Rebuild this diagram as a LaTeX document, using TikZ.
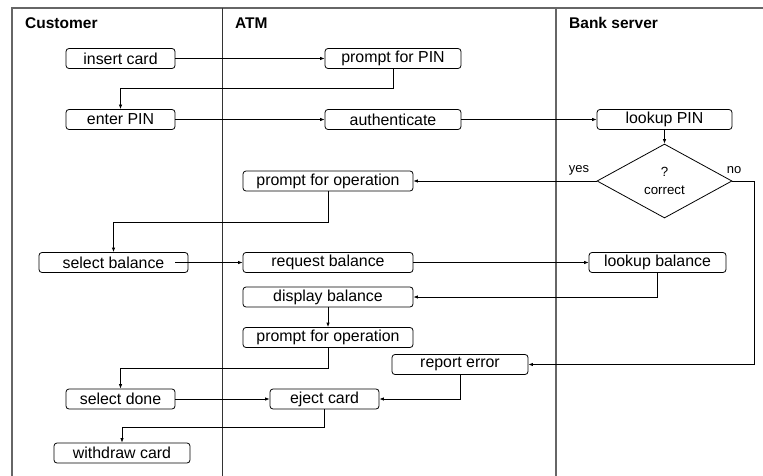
\documentclass[tikz,border=0pt]{standalone}
\usepackage{fontspec}
\setmainfont{Liberation Sans}
\usetikzlibrary{arrows.meta,shapes.geometric}
\begin{document}
\begin{tikzpicture}[x=1pt,y=-1pt,
  act/.style={draw, rounded corners=3pt, minimum height=20pt, inner sep=0pt,
    font=\fontsize{15.9}{18}\selectfont, line width=0.8pt},
  dec/.style={draw, diamond, minimum width=135pt, minimum height=74pt, aspect=1.8,
    inner sep=0pt, align=center, font=\fontsize{13.3}{18}\selectfont, line width=0.8pt},
  lbl/.style={font=\fontsize{13}{15}\selectfont, inner sep=0pt},
  hdr/.style={font=\fontsize{15.5}{18}\selectfont\bfseries, inner sep=0pt, anchor=west},
  flow/.style={draw, line width=0.8pt, -{Latex[length=4.5pt,width=3.5pt]}},
  lane/.style={draw=black!60, line width=1.2pt}]
\useasboundingbox (0,0) rectangle (763,476);
% frame and lanes
\coordinate (tl) at (12,8);
\coordinate (tr) at (763,8);
\coordinate (bl) at (12,476);
\draw[lane] (bl) -- (tl) -- (tr);
\draw[draw=black!80, line width=0.9pt] (222,8) -- (222,476);
\draw[lane] (556,8) -- (556,476);
% headers
\node[hdr] (hc) at (25,23) {Customer};
\node[hdr] (ha) at (235,23) {ATM};
\node[hdr] (hb) at (569,23) {Bank server};
% nodes
\node[act, minimum width=109pt] (ic) at (120.5,58.5) {insert card};
\node[act, minimum width=136pt] (pp) at (393,58.5) {prompt for PIN};
\node[act, minimum width=109pt] (ep) at (120.5,119.5) {enter PIN};
\node[act, minimum width=136pt] (au) at (393,119.5) {authenticate};
\node[act, minimum width=135pt] (lp) at (664.5,119.5) {lookup PIN};
\node[dec] (dc) at (664.5,181) {?\\correct};
\node[act, minimum width=170pt] (po1) at (328,181) {prompt for operation};
\node[act, minimum width=149pt] (sb) at (113.5,262.5) {select balance};
\node[act, minimum width=170pt] (rb) at (328,262.5) {request balance};
\node[act, minimum width=137pt] (lb) at (657.5,262.5) {lookup balance};
\node[act, minimum width=170pt] (db) at (328,297) {display balance};
\node[act, minimum width=170pt] (po2) at (328,337.5) {prompt for operation};
\node[act, minimum width=136pt] (re) at (460,364.5) {report error};
\node[act, minimum width=109pt] (sd) at (120.5,399) {select done};
\node[act, minimum width=109pt] (ec) at (324.5,399) {eject card};
\node[act, minimum width=136pt] (wc) at (122,453) {withdraw card};
% labels
\node[lbl] (yes) at (579,170) {yes};
\node[lbl] (no) at (734,170) {no};
% connectors
\draw[flow] (ic) -- (pp);
\draw[flow] (pp.south) -- ++(0,20) -| (ep.north);
\draw[flow] (ep) -- (au);
\draw[flow] (au) -- (lp);
\draw[flow] (lp) -- (dc);
\draw[flow] (dc.west) -- (po1.east);
\draw[flow] (dc.east) -- ++(22,0) |- (re.east);
\draw[flow] (po1.south) -- ++(0,31) -| (sb.north);
\draw[flow] ([xshift=-13pt]sb.east) -- (rb.west);
\draw[flow] (rb) -- (lb);
\draw[flow] (lb.south) |- (db.east);
\draw[flow] (db) -- (po2);
\draw[flow] (po2.south) -- ++(0,20) -| (sd.north);
\draw[flow] (sd) -- (ec);
\draw[flow] (re.south) |- (ec.east);
\draw[flow] (ec.south) -- ++(0,18) -| (wc.north);
\end{tikzpicture}
\end{document}
